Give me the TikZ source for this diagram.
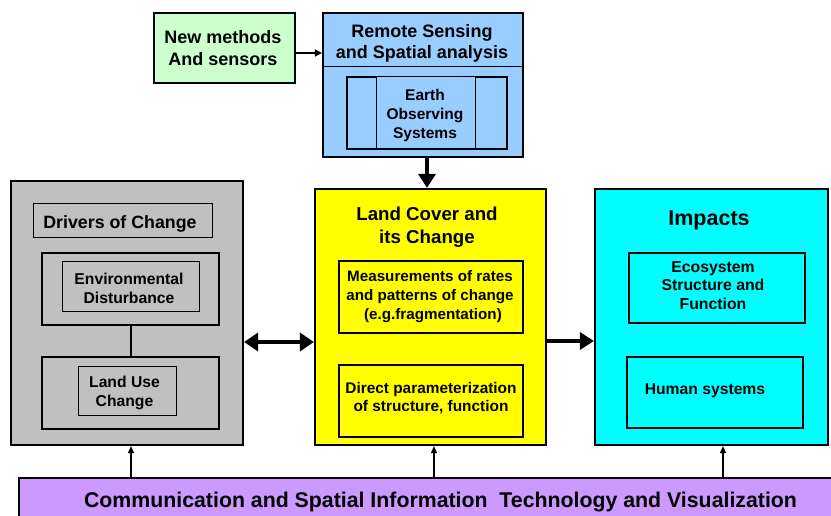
\documentclass[tikz,border=0pt]{standalone}
\usepackage{fontspec}
\setmainfont{Liberation Sans}
\usetikzlibrary{arrows.meta,calc}
\definecolor{boxgreen}{HTML}{CCFFCC}
\definecolor{boxblue}{HTML}{99CCFF}
\definecolor{boxgray}{HTML}{C0C0C0}
\definecolor{boxyellow}{HTML}{FFFF00}
\definecolor{boxcyan}{HTML}{00FFFF}
\definecolor{boxpurple}{HTML}{CC99FF}
\newcommand{\fs}[2]{\fontsize{#1}{#2}\selectfont\bfseries}
\tikzset{
  heavybox/.style={draw=black, line width=2.2pt, rectangle, inner sep=0pt},
  lightbox/.style={draw=black, line width=1pt, rectangle, inner sep=0pt},
  label/.style={inner sep=0pt, align=center, text=black},
  bigarrow/.style={line width=3.8pt, -{Triangle[length=14pt,width=17pt]}},
  bothways/.style={line width=3.8pt, {Triangle[length=14pt,width=18pt]}-{Triangle[length=14pt,width=18pt]}},
  midarrow/.style={line width=1.6pt, -{Triangle[length=7pt,width=7pt]}},
  smallarrow/.style={line width=1.1pt, -{Triangle[length=7pt,width=6pt]}},
}
\begin{document}
\begin{tikzpicture}[x=1pt,y=-1pt]
\useasboundingbox (0,0) rectangle (831,516);
\clip (0,0) rectangle (831,516);

% top: new methods feeding remote sensing
\node[heavybox, fill=boxgreen, minimum width=141pt, minimum height=70pt] (newm) at (224.5,48) {};
\node[label, font=\fs{18}{22}] (newmtxt) at (223,48) {New methods\\ And sensors};

\node[heavybox, fill=boxblue, minimum width=200pt, minimum height=144pt] (rs) at (423,85) {};
\coordinate (rsdivl) at (323,67);
\coordinate (rsdivr) at (523,67);
\draw[line width=1pt] (rsdivl) -- (rsdivr);
\node[label, font=\fs{18}{21.5}] (rstxt) at (422,43.5) {Remote Sensing\\ and Spatial analysis};
\node[heavybox, fill=boxblue, minimum width=160pt, minimum height=72pt] (eosout) at (427,113) {};
\node[lightbox, fill=boxblue, minimum width=99pt, minimum height=72pt] (eosin) at (425.5,113) {};
\node[label, font=\fs{15.5}{18.8}] (eostxt) at (425,115.5) {Earth\\ Observing\\ Systems};

% left: drivers of change
\node[heavybox, fill=boxgray, minimum width=232pt, minimum height=264pt] (drv) at (127,313) {};
\node[lightbox, fill=boxgray, minimum width=179pt, minimum height=34pt] (drvtitle) at (122.5,221) {};
\node[label, font=\fs{17.8}{21}] (drvtxt) at (120,223.5) {Drivers of Change};
\node[heavybox, fill=boxgray, minimum width=177pt, minimum height=72pt] (envout) at (130.5,289) {};
\node[lightbox, fill=boxgray, minimum width=137pt, minimum height=49pt] (envin) at (130.5,286.5) {};
\node[label, font=\fs{15.7}{19.5}] (envtxt) at (129,288.5) {Environmental\\ Disturbance};
\node[heavybox, fill=boxgray, minimum width=177pt, minimum height=72pt] (luout) at (130.5,393) {};
\node[lightbox, fill=boxgray, minimum width=98pt, minimum height=49pt] (luin) at (127,390.5) {};
\node[label, font=\fs{15.7}{19}] (lutxt) at (124.5,393) {Land Use\\ Change};
\draw[line width=2pt] (envout.south) -- (luout.north);

% centre: land cover
\node[heavybox, fill=boxyellow, minimum width=231pt, minimum height=256pt] (lc) at (430.5,317) {};
\node[label, font=\fs{18.7}{23.5}] (lctxt) at (427,227) {Land Cover and\\ its Change};
\node[heavybox, fill=boxyellow, minimum width=184pt, minimum height=72pt] (meas) at (431,297) {};
\node[label, font=\fs{15.2}{19}] (meastxt) at (430,297) {Measurements of rates\\ and patterns of change\\ \hspace*{6pt}(e.g.fragmentation)};
\node[heavybox, fill=boxyellow, minimum width=184pt, minimum height=72pt] (dir) at (431,401) {};
\node[label, font=\fs{15.4}{18.5}] (dirtxt) at (431,398) {Direct parameterization\\ of structure, function};

% right: impacts
\node[heavybox, fill=boxcyan, minimum width=233pt, minimum height=256pt] (imp) at (711.5,317) {};
\node[label, font=\fs{21.5}{24}] (imptxt) at (709,220) {Impacts};
\node[heavybox, fill=boxcyan, minimum width=176pt, minimum height=70pt] (eco) at (717,288) {};
\node[label, font=\fs{15.8}{18.5}] (ecotxt) at (713,285.5) {Ecosystem\\ Structure and\\ Function};
\node[heavybox, fill=boxcyan, minimum width=176pt, minimum height=71pt] (hum) at (715,392.5) {};
\node[label, font=\fs{15.7}{19}] (humtxt) at (705,391) {Human systems};

% bottom band
\node[heavybox, fill=boxpurple, minimum width=827pt, minimum height=63pt, anchor=north west] (comm) at (18,477) {};
\node[label, font=\fs{21.3}{24}] (commtxt) at (440.5,502.5) {Communication and Spatial Information\ \ Technology and Visualization};

% connectors
\draw[midarrow] ([yshift=-5pt]newm.east) -- ([yshift=-5pt]newm.east -| rs.west);
\draw[bigarrow] ([xshift=4pt]rs.south) -- ([xshift=4pt]rs.south |- lc.north);
\draw[bothways] ([yshift=-29pt]drv.east) -- ([yshift=-29pt]drv.east -| lc.west);
\draw[bigarrow] ([yshift=-24pt]lc.east) -- ([yshift=-24pt]lc.east -| imp.west);
\draw[smallarrow] ([xshift=4pt]drv.south |- comm.north) -- ([xshift=4pt]drv.south);
\draw[smallarrow] ([xshift=3.5pt]lc.south |- comm.north) -- ([xshift=3.5pt]lc.south);
\draw[smallarrow] ([xshift=11.5pt]imp.south |- comm.north) -- ([xshift=11.5pt]imp.south);
\end{tikzpicture}
\end{document}
